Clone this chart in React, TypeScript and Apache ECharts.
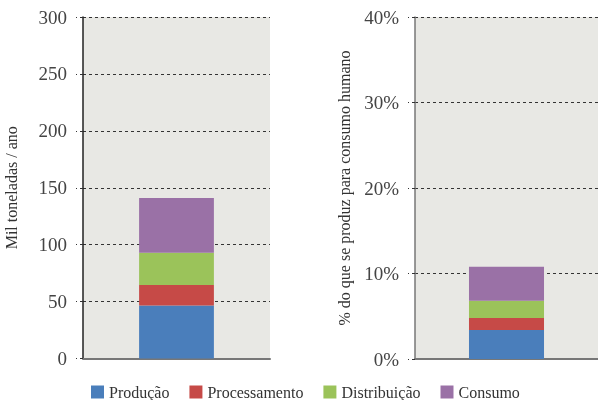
import React, { useEffect, useRef } from "react";
import * as echarts from "echarts";

const seriesNames = ["Produção", "Processamento", "Distribuição", "Consumo"];
const colors = ["#4a7ebb", "#c64a47", "#9bc35a", "#9a71a6"];
const tonnes = [46.5, 18, 28.5, 48];
const percent = [3.4, 1.4, 2.0, 4.0];
const leftTicks = [0, 300, 50];
const rightTicks = [0, 40, 10];

const FONT = "Liberation Serif";

export default function App() {
  const ref = useRef<HTMLDivElement>(null);
  useEffect(() => {
    if (!ref.current) return;
    const chart = echarts.init(ref.current, null, { renderer: "svg" });
    const yAxisCommon = (name: string, gridIndex: number, min: number, max: number, interval: number, fmt: string, axisColor: string, gap: number) => ({
      type: "value",
      gridIndex,
      min,
      max,
      interval,
      name,
      nameLocation: "middle",
      nameGap: gap,
      nameTextStyle: { fontFamily: FONT, fontSize: 16, color: "#333" },
      axisLine: { show: true, lineStyle: { color: axisColor, width: 1.5 } },
      axisTick: { show: true, length: 7, lineStyle: { color: "#333", type: [3, 3] } },
      axisLabel: { fontFamily: FONT, fontSize: 19, color: "#444", margin: 16, formatter: fmt },
      splitLine: { show: true, lineStyle: { color: "#333", type: [3, 3], width: 1 } },
    });
    const xAxisCommon = (gridIndex: number) => ({
      type: "category",
      gridIndex,
      data: [""],
      axisLine: { show: true, lineStyle: { color: "#777", width: 2 } },
      axisTick: { show: false },
      axisLabel: { show: false },
    });
    const series: any[] = [];
    seriesNames.forEach((n, i) => {
      series.push({
        name: n,
        type: "bar",
        stack: "a",
        xAxisIndex: 0,
        yAxisIndex: 0,
        data: [tonnes[i]],
        barWidth: "40%",
        itemStyle: { color: colors[i] },
      });
      series.push({
        name: n,
        type: "bar",
        stack: "b",
        xAxisIndex: 1,
        yAxisIndex: 1,
        data: [percent[i]],
        barWidth: "41%",
        itemStyle: { color: colors[i] },
      });
    });
    chart.setOption({
      animation: false,
      legend: {
        data: seriesNames,
        top: 379,
        left: 86,
        itemWidth: 13,
        itemHeight: 13,
        itemGap: 20,
        icon: "rect",
        textStyle: { fontFamily: FONT, fontSize: 16, lineHeight: 16, color: "#333" },
      },
      grid: [
        { left: 83, right: 328, top: 17, bottom: 41.5, show: true, backgroundColor: "#e8e8e4", borderWidth: 0 },
        { left: 415, right: 0, top: 17, bottom: 41, show: true, backgroundColor: "#e8e8e4", borderWidth: 0 },
      ],
      xAxis: [xAxisCommon(0), xAxisCommon(1)],
      yAxis: [
        yAxisCommon("Mil toneladas / ano", 0, leftTicks[0], leftTicks[1], leftTicks[2], "{value}", "#222", 64),
        yAxisCommon("% do que se produz para consumo humano", 1, rightTicks[0], rightTicks[1], rightTicks[2], "{value}%", "#777", 63),
      ],
      series,
    });
    return () => chart.dispose();
  }, []);
  return <div ref={ref} style={{ position: "fixed", left: 0, top: 0, width: 598, height: 400 }} />;
}
